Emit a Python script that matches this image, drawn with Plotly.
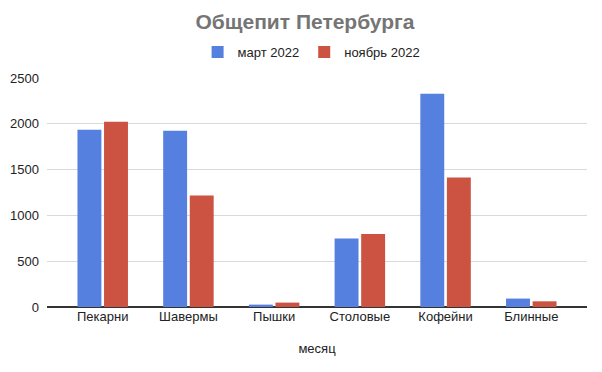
import plotly.graph_objects as go

categories = ["Пекарни", "Шавермы", "Пышки", "Столовые", "Кофейни", "Блинные"]
march_2022 = [1935, 1924, 26, 748, 2328, 92]
november_2022 = [2022, 1218, 48, 798, 1414, 62]
series_names = ["март 2022", "ноябрь 2022"]
y_ticks = [0, 500, 1000, 1500, 2000, 2500]

FONT = "Liberation Sans, Arial, sans-serif"

fig = go.Figure()
fig.add_trace(go.Bar(x=categories, y=march_2022, name=series_names[0],
                     marker=dict(color="#5580e0", line=dict(width=0))))
fig.add_trace(go.Bar(x=categories, y=november_2022, name=series_names[1],
                     marker=dict(color="#cc5242", line=dict(width=0))))

W, H = 594, 364
fig.update_layout(
    width=W, height=H,
    paper_bgcolor="white", plot_bgcolor="white",
    font=dict(family=FONT, size=13, color="#222"),
    margin=dict(l=39, r=15, t=70, b=65, autoexpand=False),
    barmode="group", bargap=0.38, bargroupgap=0.1,
    title=dict(text="<b>Общепит Петербурга</b>", x=0.5, xanchor="center",
               yref="container", y=1 - 14 / H, yanchor="middle",
               font=dict(family=FONT, size=21, color="#757575")),
    legend=dict(orientation="h", x=0.49, xanchor="center", y=1.113, yanchor="middle",
                font=dict(family=FONT, size=13, color="#222"),
                itemsizing="constant", traceorder="normal"),
    showlegend=True,
)
fig.update_xaxes(range=[-0.65, 5.65], showgrid=False, showline=False, ticks="",
                 title=dict(text="месяц", font=dict(family=FONT, size=13, color="#222"), standoff=20),
                 tickfont=dict(family=FONT, size=13, color="#222"))
fig.update_yaxes(range=[0, 2500], tickvals=y_ticks, showgrid=True, gridcolor="#d9d9d9",
                 zeroline=True, zerolinecolor="#333", zerolinewidth=1.5,
                 showline=False, ticks="", ticklabelstandoff=7,
                 tickfont=dict(family=FONT, size=13, color="#222"))

fig.write_html("out.html")
